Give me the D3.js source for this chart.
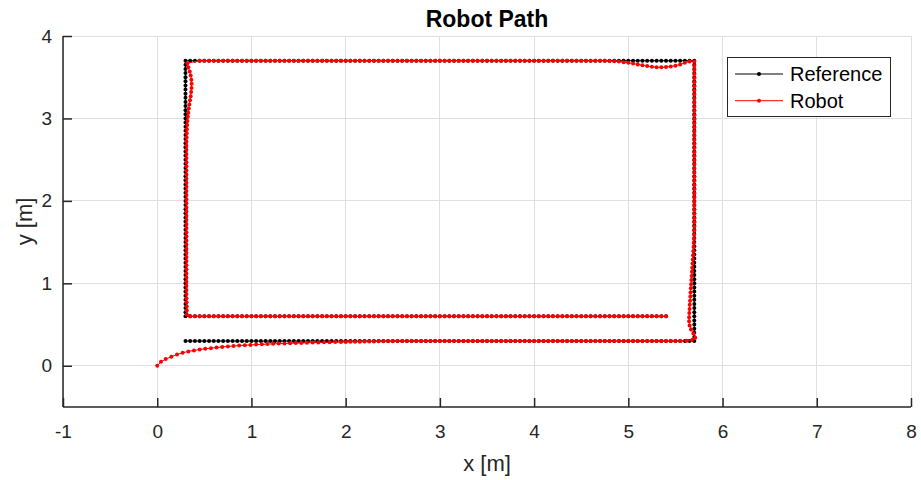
<!DOCTYPE html>
<html><head><meta charset="utf-8">
<script src="https://cdn.jsdelivr.net/npm/d3@7"></script>
<style>
body{margin:0;background:#fff;}
svg text{font-family:"Liberation Sans",Arial,Helvetica,sans-serif;fill:#262626;}
</style>
</head><body>
<svg id="chart" width="921" height="480"></svg>
<script>
const chartTitle = "Robot Path";
const xLabel = "x [m]";
const yLabel = "y [m]";
const xTicks = [-1,0,1,2,3,4,5,6,7,8];
const yTicks = [0,1,2,3,4];
const seriesNames = ["Reference","Robot"];

// Reference path samples
const refX = [
0.3,0.35,0.4,0.45,0.5,0.55,0.6,0.65,0.7,0.75,
0.8,0.85,0.9,0.95,1,1.05,1.1,1.15,1.2,1.25,
1.3,1.35,1.4,1.45,1.5,1.55,1.6,1.65,1.7,1.75,
1.8,1.85,1.9,1.95,2,2.05,2.1,2.15,2.2,2.25,
2.3,2.35,2.4,2.45,2.5,2.55,2.6,2.65,2.7,2.75,
2.8,2.85,2.9,2.95,3,3.05,3.1,3.15,3.2,3.25,
3.3,3.35,3.4,3.45,3.5,3.55,3.6,3.65,3.7,3.75,
3.8,3.85,3.9,3.95,4,4.05,4.1,4.15,4.2,4.25,
4.3,4.35,4.4,4.45,4.5,4.55,4.6,4.65,4.7,4.75,
4.8,4.85,4.9,4.95,5,5.05,5.1,5.15,5.2,5.25,
5.3,5.35,5.4,5.45,5.5,5.55,5.6,5.65,5.7,
5.7,5.7,5.7,5.7,5.7,5.7,5.7,5.7,5.7,5.7,
5.7,5.7,5.7,5.7,5.7,5.7,5.7,5.7,5.7,5.7,
5.7,5.7,5.7,5.7,5.7,5.7,5.7,5.7,5.7,5.7,
5.7,5.7,5.7,5.7,5.7,5.7,5.7,5.7,5.7,5.7,
5.7,5.7,5.7,5.7,5.7,5.7,5.7,5.7,5.7,5.7,
5.7,5.7,5.7,5.7,5.7,5.7,5.7,5.7,5.7,5.7,
5.7,5.7,5.7,5.7,5.7,5.7,5.7,5.7,
5.65,5.6,5.55,5.5,5.45,5.4,5.35,5.3,5.25,5.2,
5.15,5.1,5.05,5,4.95,4.9,4.85,4.8,4.75,4.7,
4.65,4.6,4.55,4.5,4.45,4.4,4.35,4.3,4.25,4.2,
4.15,4.1,4.05,4,3.95,3.9,3.85,3.8,3.75,3.7,
3.65,3.6,3.55,3.5,3.45,3.4,3.35,3.3,3.25,3.2,
3.15,3.1,3.05,3,2.95,2.9,2.85,2.8,2.75,2.7,
2.65,2.6,2.55,2.5,2.45,2.4,2.35,2.3,2.25,2.2,
2.15,2.1,2.05,2,1.95,1.9,1.85,1.8,1.75,1.7,
1.65,1.6,1.55,1.5,1.45,1.4,1.35,1.3,1.25,1.2,
1.15,1.1,1.05,1,0.95,0.9,0.85,0.8,0.75,0.7,
0.65,0.6,0.55,0.5,0.45,0.4,0.35,0.3,
0.3,0.3,0.3,0.3,0.3,0.3,0.3,0.3,0.3,0.3,
0.3,0.3,0.3,0.3,0.3,0.3,0.3,0.3,0.3,0.3,
0.3,0.3,0.3,0.3,0.3,0.3,0.3,0.3,0.3,0.3,
0.3,0.3,0.3,0.3,0.3,0.3,0.3,0.3,0.3,0.3,
0.3,0.3,0.3,0.3,0.3,0.3,0.3,0.3,0.3,0.3,
0.3,0.3,0.3,0.3,0.3,0.3,0.3,0.3,0.3,0.3,
0.3,0.3,
0.35,0.4,0.45,0.5,0.55,0.6,0.65,0.7,0.75,0.8,
0.85,0.9,0.95,1,1.05,1.1,1.15,1.2,1.25,1.3,
1.35,1.4,1.45,1.5,1.55,1.6,1.65,1.7,1.75,1.8,
1.85,1.9,1.95,2,2.05,2.1,2.15,2.2,2.25,2.3,
2.35,2.4,2.45,2.5,2.55,2.6,2.65,2.7,2.75,2.8,
2.85,2.9,2.95,3,3.05,3.1,3.15,3.2,3.25,3.3,
3.35,3.4,3.45,3.5,3.55,3.6,3.65,3.7,3.75,3.8,
3.85,3.9,3.95,4,4.05,4.1,4.15,4.2,4.25,4.3,
4.35,4.4,4.45,4.5,4.55,4.6,4.65,4.7,4.75,4.8,
4.85,4.9,4.95,5,5.05,5.1,5.15,5.2,5.25,5.3,
5.35,5.4
];
const refY = [
0.3,0.3,0.3,0.3,0.3,0.3,0.3,0.3,0.3,0.3,
0.3,0.3,0.3,0.3,0.3,0.3,0.3,0.3,0.3,0.3,
0.3,0.3,0.3,0.3,0.3,0.3,0.3,0.3,0.3,0.3,
0.3,0.3,0.3,0.3,0.3,0.3,0.3,0.3,0.3,0.3,
0.3,0.3,0.3,0.3,0.3,0.3,0.3,0.3,0.3,0.3,
0.3,0.3,0.3,0.3,0.3,0.3,0.3,0.3,0.3,0.3,
0.3,0.3,0.3,0.3,0.3,0.3,0.3,0.3,0.3,0.3,
0.3,0.3,0.3,0.3,0.3,0.3,0.3,0.3,0.3,0.3,
0.3,0.3,0.3,0.3,0.3,0.3,0.3,0.3,0.3,0.3,
0.3,0.3,0.3,0.3,0.3,0.3,0.3,0.3,0.3,0.3,
0.3,0.3,0.3,0.3,0.3,0.3,0.3,0.3,0.3,
0.35,0.4,0.45,0.5,0.55,0.6,0.65,0.7,0.75,0.8,
0.85,0.9,0.95,1,1.05,1.1,1.15,1.2,1.25,1.3,
1.35,1.4,1.45,1.5,1.55,1.6,1.65,1.7,1.75,1.8,
1.85,1.9,1.95,2,2.05,2.1,2.15,2.2,2.25,2.3,
2.35,2.4,2.45,2.5,2.55,2.6,2.65,2.7,2.75,2.8,
2.85,2.9,2.95,3,3.05,3.1,3.15,3.2,3.25,3.3,
3.35,3.4,3.45,3.5,3.55,3.6,3.65,3.7,
3.7,3.7,3.7,3.7,3.7,3.7,3.7,3.7,3.7,3.7,
3.7,3.7,3.7,3.7,3.7,3.7,3.7,3.7,3.7,3.7,
3.7,3.7,3.7,3.7,3.7,3.7,3.7,3.7,3.7,3.7,
3.7,3.7,3.7,3.7,3.7,3.7,3.7,3.7,3.7,3.7,
3.7,3.7,3.7,3.7,3.7,3.7,3.7,3.7,3.7,3.7,
3.7,3.7,3.7,3.7,3.7,3.7,3.7,3.7,3.7,3.7,
3.7,3.7,3.7,3.7,3.7,3.7,3.7,3.7,3.7,3.7,
3.7,3.7,3.7,3.7,3.7,3.7,3.7,3.7,3.7,3.7,
3.7,3.7,3.7,3.7,3.7,3.7,3.7,3.7,3.7,3.7,
3.7,3.7,3.7,3.7,3.7,3.7,3.7,3.7,3.7,3.7,
3.7,3.7,3.7,3.7,3.7,3.7,3.7,3.7,
3.65,3.6,3.55,3.5,3.45,3.4,3.35,3.3,3.25,3.2,
3.15,3.1,3.05,3,2.95,2.9,2.85,2.8,2.75,2.7,
2.65,2.6,2.55,2.5,2.45,2.4,2.35,2.3,2.25,2.2,
2.15,2.1,2.05,2,1.95,1.9,1.85,1.8,1.75,1.7,
1.65,1.6,1.55,1.5,1.45,1.4,1.35,1.3,1.25,1.2,
1.15,1.1,1.05,1,0.95,0.9,0.85,0.8,0.75,0.7,
0.65,0.6,
0.6,0.6,0.6,0.6,0.6,0.6,0.6,0.6,0.6,0.6,
0.6,0.6,0.6,0.6,0.6,0.6,0.6,0.6,0.6,0.6,
0.6,0.6,0.6,0.6,0.6,0.6,0.6,0.6,0.6,0.6,
0.6,0.6,0.6,0.6,0.6,0.6,0.6,0.6,0.6,0.6,
0.6,0.6,0.6,0.6,0.6,0.6,0.6,0.6,0.6,0.6,
0.6,0.6,0.6,0.6,0.6,0.6,0.6,0.6,0.6,0.6,
0.6,0.6,0.6,0.6,0.6,0.6,0.6,0.6,0.6,0.6,
0.6,0.6,0.6,0.6,0.6,0.6,0.6,0.6,0.6,0.6,
0.6,0.6,0.6,0.6,0.6,0.6,0.6,0.6,0.6,0.6,
0.6,0.6,0.6,0.6,0.6,0.6,0.6,0.6,0.6,0.6,
0.6,0.6
];

// Robot path samples
const robotX = [
0,0.04,0.09,0.15,0.21,0.27,0.33,0.39,0.45,0.51,
0.57,0.63,0.69,0.75,0.81,0.87,0.93,0.99,1.05,1.11,
1.17,1.23,1.29,1.35,1.41,1.47,1.53,1.59,1.65,1.71,
1.77,1.83,1.89,1.95,2,
2.05,2.1,2.15,2.2,2.25,2.3,2.35,2.4,2.45,2.5,
2.55,2.6,2.65,2.7,2.75,2.8,2.85,2.9,2.95,3,
3.05,3.1,3.15,3.2,3.25,3.3,3.35,3.4,3.45,3.5,
3.55,3.6,3.65,3.7,3.75,3.8,3.85,3.9,3.95,4,
4.05,4.1,4.15,4.2,4.25,4.3,4.35,4.4,4.45,4.5,
4.55,4.6,4.65,4.7,4.75,4.8,4.85,4.9,4.95,5,
5.05,5.1,5.15,5.2,5.25,5.3,5.35,5.4,5.45,5.5,
5.55,
5.62,5.68,5.71,5.69,5.665,5.65,5.645,5.645,5.647,5.65,
5.652,5.655,5.658,5.66,5.663,5.666,5.669,5.672,5.675,5.678,
5.681,5.684,5.687,5.69,5.692,5.694,5.696,5.698,5.699,
5.7,5.7,5.7,5.7,5.7,5.7,5.7,5.7,5.7,5.7,
5.7,5.7,5.7,5.7,5.7,5.7,5.7,5.7,5.7,5.7,
5.7,5.7,5.7,5.7,5.7,5.7,5.7,5.7,5.7,5.7,
5.7,5.7,5.7,5.7,5.7,5.7,5.7,5.7,5.7,5.7,
5.7,
5.65,5.6,5.55,5.5,5.45,5.4,5.35,5.3,5.25,5.2,
5.15,5.1,5.05,5,4.95,4.9,4.85,4.8,
4.75,4.7,4.65,4.6,4.55,4.5,4.45,4.4,4.35,4.3,
4.25,4.2,4.15,4.1,4.05,4,3.95,3.9,3.85,3.8,
3.75,3.7,3.65,3.6,3.55,3.5,3.45,3.4,3.35,3.3,
3.25,3.2,3.15,3.1,3.05,3,2.95,2.9,2.85,2.8,
2.75,2.7,2.65,2.6,2.55,2.5,2.45,2.4,2.35,2.3,
2.25,2.2,2.15,2.1,2.05,2,1.95,1.9,1.85,1.8,
1.75,1.7,1.65,1.6,1.55,1.5,1.45,1.4,1.35,1.3,
1.25,1.2,1.15,1.1,1.05,1,0.95,0.9,0.85,0.8,
0.75,0.7,0.65,0.6,0.55,0.5,0.45,
0.32,0.33,0.345,0.355,0.362,0.365,0.364,0.36,0.355,0.348,
0.341,0.335,0.33,0.325,0.321,0.318,0.315,0.313,0.312,
0.31,0.31,0.31,0.31,0.31,0.31,0.31,0.31,0.31,0.31,
0.31,0.31,0.31,0.31,0.31,0.31,0.31,0.31,0.31,0.31,
0.31,0.31,0.31,0.31,0.31,0.31,0.31,0.31,0.31,0.31,
0.31,0.31,0.31,0.31,0.31,0.31,0.31,0.31,0.31,
0.312,0.313,0.314,0.315,
0.35,0.4,0.45,0.5,0.55,0.6,0.65,0.7,0.75,0.8,
0.85,0.9,0.95,1,1.05,1.1,1.15,1.2,1.25,1.3,
1.35,1.4,1.45,1.5,1.55,1.6,1.65,1.7,1.75,1.8,
1.85,1.9,1.95,2,2.05,2.1,2.15,2.2,2.25,2.3,
2.35,2.4,2.45,2.5,2.55,2.6,2.65,2.7,2.75,2.8,
2.85,2.9,2.95,3,3.05,3.1,3.15,3.2,3.25,3.3,
3.35,3.4,3.45,3.5,3.55,3.6,3.65,3.7,3.75,3.8,
3.85,3.9,3.95,4,4.05,4.1,4.15,4.2,4.25,4.3,
4.35,4.4,4.45,4.5,4.55,4.6,4.65,4.7,4.75,4.8,
4.85,4.9,4.95,5,5.05,5.1,5.15,5.2,5.25,5.3,
5.35,5.4
];
const robotY = [
0,0.048,0.081,0.109,0.137,0.157,0.174,0.186,0.198,0.206,
0.214,0.222,0.229,0.235,0.24,0.245,0.249,0.253,0.257,0.26,
0.263,0.266,0.269,0.271,0.273,0.275,0.277,0.279,0.281,0.283,
0.284,0.286,0.287,0.288,0.289,
0.29,0.291,0.292,0.293,0.294,0.295,0.296,0.297,0.298,0.299,
0.3,0.3,0.3,0.3,0.3,0.3,0.3,0.3,0.3,0.3,
0.3,0.3,0.3,0.3,0.3,0.3,0.3,0.3,0.3,0.3,
0.3,0.3,0.3,0.3,0.3,0.3,0.3,0.3,0.3,0.3,
0.3,0.3,0.3,0.3,0.3,0.3,0.3,0.3,0.3,0.3,
0.3,0.3,0.3,0.3,0.3,0.3,0.3,0.3,0.3,0.3,
0.3,0.3,0.3,0.3,0.3,0.3,0.3,0.3,0.3,0.3,
0.3,
0.305,0.315,0.34,0.39,0.44,0.49,0.54,0.59,0.64,0.69,
0.74,0.79,0.84,0.89,0.94,0.99,1.04,1.09,1.14,1.19,
1.24,1.29,1.34,1.39,1.44,1.49,1.54,1.59,1.64,
1.69,1.74,1.79,1.84,1.89,1.94,1.99,2.04,2.09,2.14,
2.19,2.24,2.29,2.34,2.39,2.44,2.49,2.54,2.59,2.64,
2.69,2.74,2.79,2.84,2.89,2.94,2.99,3.04,3.09,3.14,
3.19,3.24,3.29,3.34,3.39,3.44,3.49,3.54,3.59,3.64,
3.69,
3.69,3.675,3.655,3.64,3.63,3.623,3.62,3.622,3.627,3.635,
3.645,3.655,3.665,3.675,3.683,3.69,3.695,3.698,
3.7,3.7,3.7,3.7,3.7,3.7,3.7,3.7,3.7,3.7,
3.7,3.7,3.7,3.7,3.7,3.7,3.7,3.7,3.7,3.7,
3.7,3.7,3.7,3.7,3.7,3.7,3.7,3.7,3.7,3.7,
3.7,3.7,3.7,3.7,3.7,3.7,3.7,3.7,3.7,3.7,
3.7,3.7,3.7,3.7,3.7,3.7,3.7,3.7,3.7,3.7,
3.7,3.7,3.7,3.7,3.7,3.7,3.7,3.7,3.7,3.7,
3.7,3.7,3.7,3.7,3.7,3.7,3.7,3.7,3.7,3.7,
3.7,3.7,3.7,3.7,3.7,3.7,3.7,3.7,3.7,3.7,
3.7,3.7,3.7,3.7,3.7,3.7,3.7,
3.67,3.62,3.57,3.52,3.47,3.42,3.37,3.32,3.27,3.22,
3.17,3.12,3.07,3.02,2.97,2.92,2.87,2.82,2.77,
2.72,2.67,2.62,2.57,2.52,2.47,2.42,2.37,2.32,2.27,
2.22,2.17,2.12,2.07,2.02,1.97,1.92,1.87,1.82,1.77,
1.72,1.67,1.62,1.57,1.52,1.47,1.42,1.37,1.32,1.27,
1.22,1.17,1.12,1.07,1.02,0.97,0.92,0.87,0.82,
0.77,0.72,0.67,0.62,
0.6,0.6,0.6,0.6,0.6,0.6,0.6,0.6,0.6,0.6,
0.6,0.6,0.6,0.6,0.6,0.6,0.6,0.6,0.6,0.6,
0.6,0.6,0.6,0.6,0.6,0.6,0.6,0.6,0.6,0.6,
0.6,0.6,0.6,0.6,0.6,0.6,0.6,0.6,0.6,0.6,
0.6,0.6,0.6,0.6,0.6,0.6,0.6,0.6,0.6,0.6,
0.6,0.6,0.6,0.6,0.6,0.6,0.6,0.6,0.6,0.6,
0.6,0.6,0.6,0.6,0.6,0.6,0.6,0.6,0.6,0.6,
0.6,0.6,0.6,0.6,0.6,0.6,0.6,0.6,0.6,0.6,
0.6,0.6,0.6,0.6,0.6,0.6,0.6,0.6,0.6,0.6,
0.6,0.6,0.6,0.6,0.6,0.6,0.6,0.6,0.6,0.6,
0.6,0.6
];

const svg = d3.select("#chart");
const pL = 63, pR = 911, pT = 36, pB = 407;
const x = d3.scaleLinear().domain([-1, 8]).range([pL, pR]);
const y = d3.scaleLinear().domain([-0.5, 4]).range([pB, pT]);
const ink = "#262626";

// grid
const grid = svg.append("g");
grid.selectAll("line.gx").data(xTicks).join("line").attr("class", "gx")
  .attr("x1", d => x(d)).attr("x2", d => x(d)).attr("y1", pT).attr("y2", pB)
  .attr("stroke", "#dfdfdf").attr("stroke-width", 1).attr("shape-rendering","crispEdges");
grid.selectAll("line.gy").data(yTicks).join("line").attr("class", "gy")
  .attr("y1", d => y(d)).attr("y2", d => y(d)).attr("x1", pL).attr("x2", pR)
  .attr("stroke", "#dfdfdf").attr("stroke-width", 1).attr("shape-rendering","crispEdges");

function pts(xs, ys) {
  const n = Math.min(xs.length, ys.length);
  const out = [];
  for (let i = 0; i < n; i++) out.push([xs[i], ys[i]]);
  return out;
}
const series = [
  {name: seriesNames[0], color: "#000000", data: pts(refX, refY)},
  {name: seriesNames[1], color: "#ff0000", data: pts(robotX, robotY)}
];
const line = d3.line().x(d => x(d[0])).y(d => y(d[1]));
const plot = svg.append("g");
series.forEach(s => {
  plot.append("path").datum(s.data).attr("d", line)
    .attr("fill", "none").attr("stroke", s.color).attr("stroke-width", 1);
  plot.append("g").selectAll("circle").data(s.data).join("circle")
    .attr("cx", d => x(d[0])).attr("cy", d => y(d[1])).attr("r", 2)
    .attr("fill", s.color);
});

// axes
const xAxis = d3.axisBottom(x).tickValues(xTicks).tickFormat(d => String(d))
  .tickSizeInner(-9).tickSizeOuter(0).tickPadding(18);
const yAxis = d3.axisLeft(y).tickValues(yTicks).tickFormat(d => String(d))
  .tickSizeInner(-9).tickSizeOuter(0).tickPadding(11);
const gx = svg.append("g").attr("transform", `translate(0,${pB})`).call(xAxis);
const gy = svg.append("g").attr("transform", `translate(${pL},0)`).call(yAxis);
[gx, gy].forEach(g => {
  g.select(".domain").attr("stroke", ink).attr("stroke-width", 1.5);
  g.selectAll(".tick line").attr("stroke", ink).attr("stroke-width", 1.5);
  g.selectAll(".tick text").attr("fill", ink).style("font-size", "19px")
    .style("font-family", '"Liberation Sans",Arial,sans-serif');
});
gx.select(".domain").attr("d", `M${pL},0H${pR}`);
gy.select(".domain").attr("d", `M0,${pB}V${pT}`);

// title & labels
svg.append("text").attr("x", (pL + pR) / 2).attr("y", 27)
  .attr("text-anchor", "middle").style("font-size", "23px").style("font-weight", "bold")
  .style("fill", "#000").text(chartTitle);
svg.append("text").attr("x", (pL + pR) / 2).attr("y", 471)
  .attr("text-anchor", "middle").style("font-size", "22px").text(xLabel);
svg.append("text").attr("transform", `translate(32,${(pT + pB) / 2}) rotate(-90)`)
  .attr("text-anchor", "middle").style("font-size", "22px").text(yLabel);

// legend
const lg = svg.append("g");
lg.append("rect").attr("x", 727.5).attr("y", 57.5).attr("width", 163).attr("height", 59)
  .attr("fill", "#fff").attr("stroke", ink).attr("stroke-width", 1);
series.forEach((s, i) => {
  const ly = 74 + i * 26.7;
  lg.append("line").attr("x1", 735).attr("x2", 783).attr("y1", ly).attr("y2", ly)
    .attr("stroke", s.color).attr("stroke-width", 1);
  lg.append("circle").attr("cx", 759).attr("cy", ly).attr("r", 2).attr("fill", s.color);
  lg.append("text").attr("x", 790).attr("y", ly + 7).style("font-size", "20px")
    .style("fill", "#000").text(s.name);
});
</script>
</body></html>
